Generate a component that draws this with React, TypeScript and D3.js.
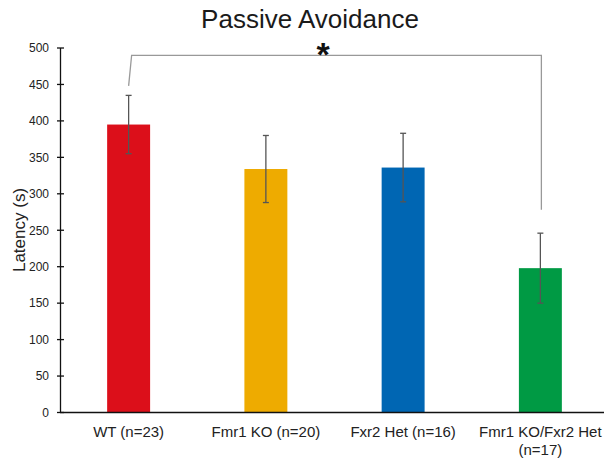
import React from "react";
import * as d3 from "d3";

const categories = ["WT (n=23)", "Fmr1 KO (n=20)", "Fxr2 Het (n=16)", "Fmr1 KO/Fxr2 Het|(n=17)"];
const means = [395, 334, 336, 198];
const errors = [40, 46, 47, 48];
const colors = ["#DC0F1A", "#EEAB00", "#0066B3", "#009A44"];
const yTicks = [0, 50, 100, 150, 200, 250, 300, 350, 400, 450, 500];
const sigBracket = { from: 0, to: 3, label: "*", level: 490, leftGap: 13, rightGap: 32 };

const W = 604;
const H = 458;
const FONT = "'Liberation Sans', Arial, Helvetica, sans-serif";

export default function App() {
  const x = d3
    .scaleBand<string>()
    .domain(categories)
    .range([60, 609])
    .paddingInner(0.687)
    .paddingOuter(0.3435);
  const y = d3.scaleLinear().domain([0, 500]).range([412.5, 48]);
  const bw = x.bandwidth();
  const cx = (i: number) => (x(categories[i]) as number) + bw / 2;

  const x1 = cx(sigBracket.from);
  const x2 = cx(sigBracket.to);
  const yb = y(sigBracket.level);
  const leftBottom = y(means[sigBracket.from] + errors[sigBracket.from] + sigBracket.leftGap);
  const rightBottom = y(means[sigBracket.to] + errors[sigBracket.to] + sigBracket.rightGap);

  return (
    <svg
      width={W}
      height={H}
      style={{ position: "absolute", left: 0, top: 0, background: "#fff" }}
      fontFamily={FONT}
    >
      <rect width={W} height={H} fill="#fff" />
      <text x={310} y={28} textAnchor="middle" fontSize={26} fill="#1a1a1a">
        Passive Avoidance
      </text>

      {/* bars */}
      {means.map((m, i) => (
        <rect
          key={"b" + i}
          x={x(categories[i])}
          y={y(m)}
          width={bw}
          height={y(0) - y(m)}
          fill={colors[i]}
        />
      ))}

      {/* error bars */}
      {means.map((m, i) => {
        const c = cx(i);
        const t = y(m + errors[i]);
        const b = y(m - errors[i]);
        return (
          <g key={"e" + i} stroke="#555" strokeWidth={1.3}>
            <line x1={c} x2={c} y1={t} y2={b} />
            <line x1={c - 3} x2={c + 3} y1={t} y2={t} />
            <line x1={c - 3} x2={c + 3} y1={b} y2={b} />
          </g>
        );
      })}

      {/* y axis */}
      <line x1={60.5} x2={60.5} y1={y(500)} y2={y(0)} stroke="#111" strokeWidth={1.3} />
      {yTicks.map((t) => (
        <g key={"t" + t}>
          <line x1={57} x2={64} y1={y(t)} y2={y(t)} stroke="#111" strokeWidth={1.3} />
          <text x={49} y={y(t) + 4.3} textAnchor="end" fontSize={12} fill="#222">
            {t}
          </text>
        </g>
      ))}
      {/* x axis */}
      <line x1={60} x2={W} y1={y(0)} y2={y(0)} stroke="#111" strokeWidth={1.3} />

      {/* category labels */}
      {categories.map((c, i) => {
        const lines = c.split("|");
        return (
          <text key={"c" + i} x={cx(i)} y={437} textAnchor="middle" fontSize={15} fill="#222">
            {lines.map((l, j) => (
              <tspan key={j} x={cx(i)} dy={j === 0 ? 0 : 18}>
                {l}
              </tspan>
            ))}
          </text>
        );
      })}

      {/* y label */}
      <text
        transform={`translate(25,230) rotate(-90)`}
        textAnchor="middle"
        fontSize={17}
        fill="#222"
      >
        Latency (s)
      </text>

      {/* significance bracket */}
      <path
        d={`M${x1},${leftBottom} L${x1 + 3},${yb} L${x2 + 1},${yb} L${x2 + 1},${rightBottom}`}
        fill="none"
        stroke="#999"
        strokeWidth={1.3}
      />
      <text x={323} y={66} textAnchor="middle" fontSize={34} fontWeight="bold" fill="#111">
        {sigBracket.label}
      </text>
    </svg>
  );
}
